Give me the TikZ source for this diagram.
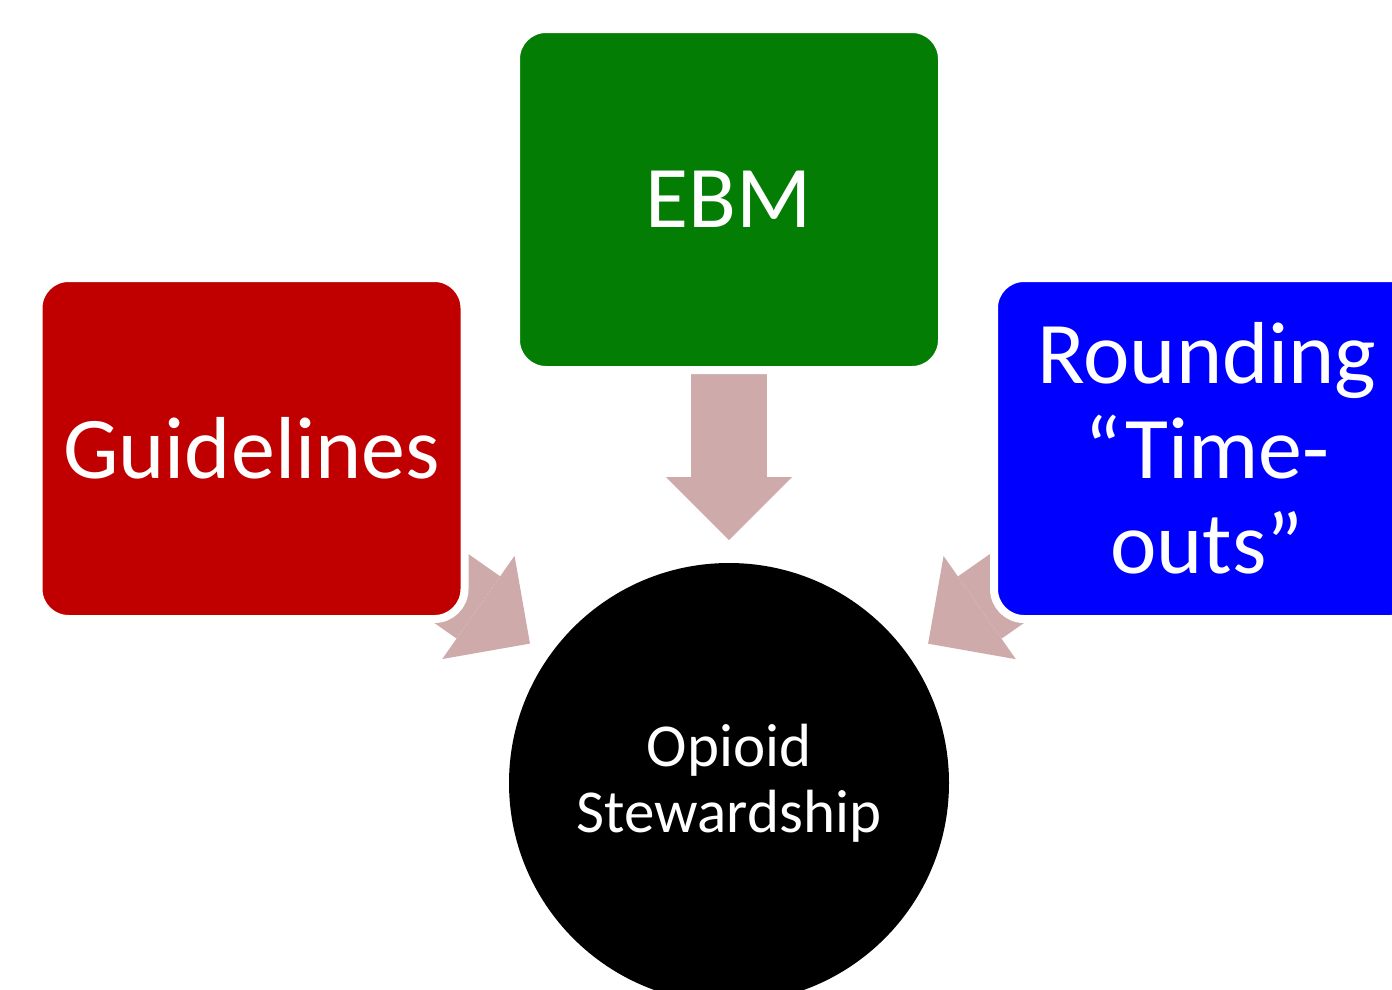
\documentclass[tikz,border=0pt]{standalone}
\usepackage{fontspec}
\setmainfont{Carlito}
\usepackage{xcolor}
\usetikzlibrary{arrows.meta,calc,backgrounds}
\definecolor{ebmfill}{RGB}{3,125,3}
\definecolor{guidefill}{RGB}{192,0,0}
\definecolor{roundfill}{RGB}{0,0,255}
\definecolor{arrowpink}{RGB}{206,170,170}
\tikzset{
  pillar/.style={
    draw=white, line width=8pt, fill=#1, rounded corners=30pt,
    minimum width=426pt, minimum height=341pt, inner sep=0pt,
    align=center, text=white, font=\fontsize{88}{95}\selectfont,
  },
  core/.style={
    circle, fill=black, minimum size=440pt, inner sep=0pt,
    align=center, text=white, font=\fontsize{61}{66}\selectfont,
  },
  feed/.style={
    line width=76pt, draw=arrowpink,
    -{Triangle[length=63pt,width=126pt,line width=0pt]},
  },
}
\begin{document}
\begin{tikzpicture}[x=1pt,y=-1pt]
  \useasboundingbox (0,0) rectangle (1392,989);
  \clip (0,0) rectangle (1392,989);

  % Source boxes
  \node[pillar=guidefill] (guide) at (251.5,448.5) {Guidelines};
  \node[pillar=ebmfill] (ebm) at (729,199.5) {EBM};
  \node[pillar=roundfill] (rounding) at (1207,448.5) {Rounding\\“Time-\\outs”};

  % Centre circle
  \node[core] (opioid) at (729,783) {Opioid\\Stewardship};

  % Block arrows, tucked under the boxes
  \begin{scope}[on background layer]
    \foreach \src in {guide,ebm,rounding}
      \draw[feed] ($(opioid.center)!411pt!(\src.center)$) -- ($(opioid.center)!243pt!(\src.center)$);
  \end{scope}
\end{tikzpicture}
\end{document}
